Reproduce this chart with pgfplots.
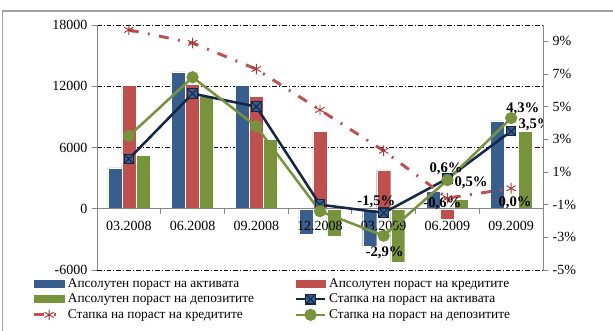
\documentclass[border=0pt]{standalone}
\usepackage{fontspec}
\setmainfont{Liberation Serif}
\usepackage{pgfplots}
\pgfplotsset{compat=1.18}

\definecolor{barBlue}{RGB}{56,94,141}
\definecolor{barRed}{RGB}{192,80,77}
\definecolor{barGreen}{RGB}{119,147,60}
\definecolor{lineNavy}{RGB}{20,40,70}
\definecolor{lineRed}{RGB}{192,80,77}
\definecolor{markRed}{RGB}{170,55,52}
\definecolor{lineGreen}{RGB}{119,147,60}
\definecolor{axisGray}{RGB}{134,134,134}
\definecolor{frameGray}{RGB}{160,160,160}

% square marker crossed by an X
\pgfdeclareplotmark{sqx}{%
  \pgfpathrectangle{\pgfqpoint{-\pgfplotmarksize}{-\pgfplotmarksize}}{\pgfqpoint{2\pgfplotmarksize}{2\pgfplotmarksize}}%
  \pgfusepathqfillstroke
  \pgfpathmoveto{\pgfqpoint{-\pgfplotmarksize}{-\pgfplotmarksize}}%
  \pgfpathlineto{\pgfqpoint{\pgfplotmarksize}{\pgfplotmarksize}}%
  \pgfpathmoveto{\pgfqpoint{-\pgfplotmarksize}{\pgfplotmarksize}}%
  \pgfpathlineto{\pgfqpoint{\pgfplotmarksize}{-\pgfplotmarksize}}%
  \pgfusepathqstroke}

\tikzset{vallabel/.style={font=\bfseries\fontsize{11}{12}\selectfont, inner sep=0pt}}

\pgfplotsset{
  plotframe/.style={
    at={(72.75pt,45.75pt)}, anchor=south west,
    scale only axis, width=334.5pt, height=183.75pt,
    xmin=-0.5, xmax=6.5,
    axis line style={axisGray, line width=0.6pt},
    tick align=outside,
    major tick length=3.75pt, minor tick length=3.75pt,
    /pgf/number format/assume math mode=true,
    /pgf/number format/1000 sep={},
    tick label style={font=\fontsize{10.5}{12}\selectfont, black},
  }
}

\begin{document}
\begin{tikzpicture}
\path[use as bounding box] (0,0) rectangle (459.75pt,248.25pt);
\draw[frameGray, line width=1.2pt] (1.9pt,0pt) -- (1.9pt,240pt) -- (459.75pt,240pt);

% absolute growth (bars, left axis)
\begin{axis}[
  plotframe,
  ymin=-6000, ymax=18000,
  ytick={-6000,0,6000,12000,18000},
  scaled y ticks=false,
  axis x line=none, axis y line*=left,
  ytick style={axisGray, line width=0.6pt},
  ymajorgrids,
  major grid style={black, line width=0.4pt, dash pattern=on 3.5pt off 1.5pt on 0.8pt off 1.5pt},
  ybar=0pt, bar width=10.5pt,
]
\addplot[fill=barBlue, draw=white, line width=0.3pt]
  coordinates {(0,4000) (1,13400) (2,12100) (3,-2500) (4,-3700) (5,1700) (6,8600)};
\addplot[fill=barRed, draw=white, line width=0.3pt]
  coordinates {(0,12100) (1,12200) (2,11000) (3,7600) (4,3800) (5,-1000) (6,0)};
\addplot[fill=barGreen, draw=white, line width=0.3pt]
  coordinates {(0,5200) (1,11000) (2,6800) (3,-2700) (4,-5200) (5,900) (6,7600)};
\end{axis}

% category axis along zero, above the bars
\begin{axis}[
  plotframe,
  ymin=-6000, ymax=18000,
  axis x line*=middle, axis y line=none,
  xtick={0,...,6},
  xticklabels={03.2008,06.2008,09.2008,12.2008,03.2009,06.2009,09.2009},
  minor xtick={0.5,1.5,...,5.5},
  major x tick style={draw=none},
  minor x tick style={axisGray, line width=0.6pt},
  xticklabel style={yshift=-2.25pt},
]
\end{axis}

% growth rates (lines, right axis)
\begin{axis}[
  plotframe,
  ymin=-5, ymax=10,
  ytick={-5,-3,...,9},
  axis x line=none, axis y line*=right,
  ytick style={axisGray, line width=0.6pt},
  yticklabel={\pgfmathprintnumber{\tick}\%},
  legend columns=2,
  legend cell align=left,
  legend style={at={(-0.1435,-0.0226)}, anchor=north west, draw=none, fill=none,
    inner sep=0pt, outer sep=0pt, row sep=-0.4pt,
    font=\fontsize{10}{11.5}\selectfont},
  legend image code/.code={\draw[mark repeat=2,mark phase=2,#1]
    plot coordinates {(0pt,0pt) (11pt,0pt) (22pt,0pt)};},
]
\addlegendimage{legend image code/.code={\fill[barBlue] (0pt,-2.6pt) rectangle (22pt,2.6pt);}}
\addlegendentry{\makebox[168pt][l]{Апсолутен пораст на активата}}
\addlegendimage{legend image code/.code={\fill[barRed] (0pt,-2.6pt) rectangle (22pt,2.6pt);}}
\addlegendentry{Апсолутен пораст на кредитите}
\addlegendimage{legend image code/.code={\fill[barGreen] (0pt,-2.6pt) rectangle (22pt,2.6pt);}}
\addlegendentry{\makebox[168pt][l]{Апсолутен пораст на депозитите}}

\addplot[lineNavy, line width=1.9pt, mark=sqx, mark size=3.6pt,
  mark options={fill=barBlue, draw=lineNavy, line width=0.8pt}]
  coordinates {(0,1.8) (1,5.8) (2,5.0) (3,-1.0) (4,-1.5) (5,0.6) (6,3.5)};
\addlegendentry{Стапка на пораст на активата}

\addplot[lineRed, line width=2.2pt, dash pattern=on 7.5pt off 7pt on 1.5pt off 7pt,
  mark=asterisk, mark size=4pt, mark options={solid, markRed, line width=0.7pt}]
  coordinates {(0,9.7) (1,8.9) (2,7.3) (3,4.8) (4,2.3) (5,-0.6) (6,0.0)};
\addlegendentry{\makebox[168pt][l]{Стапка на пораст на кредитите}}

\addplot[lineGreen, line width=1.9pt, mark=*, mark size=3.6pt,
  mark options={fill=lineGreen, draw=lineGreen}]
  coordinates {(0,3.2) (1,6.8) (2,3.8) (3,-1.4) (4,-2.9) (5,0.5) (6,4.3)};
\addlegendentry{Стапка на пораст на депозитите}

% value labels
\node[vallabel, xshift=-5.5pt, yshift=8pt] at (axis cs:4,-1.5) {-1,5\%};
\node[vallabel, xshift=0.75pt, yshift=-12.75pt] at (axis cs:4,-2.9) {-2,9\%};
\node[vallabel, xshift=-1pt, yshift=7.5pt] at (axis cs:5,0.6) {0,6\%};
\node[vallabel, xshift=17.8pt, yshift=-2pt] at (axis cs:5,0.5) {0,5\%};
\node[vallabel, xshift=-3.75pt, yshift=-4.5pt] at (axis cs:5,-0.6) {-0,6\%};
\node[vallabel, xshift=8.8pt, yshift=7.3pt] at (axis cs:6,4.3) {4,3\%};
\node[vallabel, xshift=18pt, yshift=4.6pt] at (axis cs:6,3.5) {3,5\%};
\node[vallabel, xshift=3pt, yshift=-10.8pt] at (axis cs:6,0.0) {0,0\%};
\end{axis}
\end{tikzpicture}
\end{document}
